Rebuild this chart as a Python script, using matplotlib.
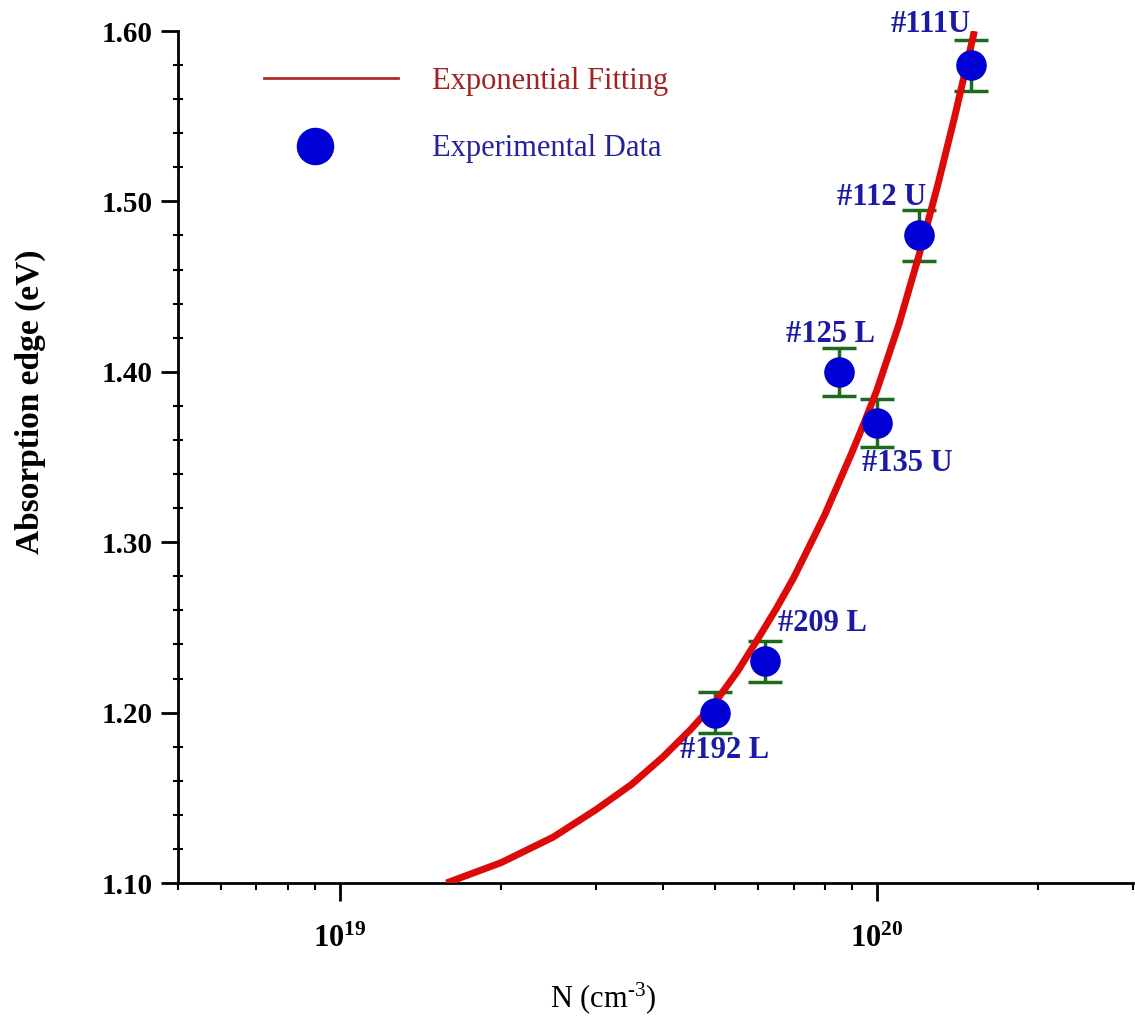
import numpy as np
import matplotlib
matplotlib.use("Agg")
import matplotlib.pyplot as plt
from matplotlib.ticker import MultipleLocator, FixedLocator, NullFormatter
from matplotlib.lines import Line2D
from matplotlib.legend_handler import HandlerLine2D

plt.rcParams['font.family'] = ['Liberation Serif', 'DejaVu Serif']
plt.rcParams['mathtext.fontset'] = 'custom'
plt.rcParams['mathtext.rm'] = 'Liberation Serif'
plt.rcParams['mathtext.bf'] = 'Liberation Serif:bold'
plt.rcParams['mathtext.it'] = 'Liberation Serif:italic'

# measured samples
sample_names = ["#192 L", "#209 L", "#125 L", "#135 U", "#112 U", "#111U"]
sample_N = [5.0e19, 6.2e19, 8.5e19, 1.0e20, 1.2e20, 1.5e20]
sample_E = [1.20, 1.23, 1.40, 1.37, 1.48, 1.58]
sample_err = [0.012, 0.012, 0.014, 0.014, 0.015, 0.015]
# label offsets (points) for each sample name
label_dx = [7, 41, -6, 22, -27, -29]
label_dy = [-27, 27, 27, -29, 27, 29]

# exponential fit curve
fit_N = [1.58e19, 2.0e19, 2.5e19, 3.0e19, 3.5e19, 4.0e19, 4.5e19, 5.0e19,
         5.5e19, 6.0e19, 6.5e19, 7.0e19, 7.5e19, 8.0e19, 8.5e19, 9.0e19,
         9.5e19, 1.0e20, 1.1e20, 1.2e20, 1.3e20, 1.4e20, 1.5e20, 1.52e20]
fit_E = [1.100, 1.112, 1.127, 1.143, 1.158, 1.174, 1.190, 1.206,
         1.224, 1.243, 1.261, 1.279, 1.298, 1.316, 1.335, 1.353,
         1.371, 1.389, 1.428, 1.469, 1.510, 1.551, 1.592, 1.600]


class OffsetMarkerHandler(HandlerLine2D):
    # single marker sits at the middle of xdata, so squeeze xdata to the left
    def get_xdata(self, legend, xdescent, ydescent, width, height, fontsize):
        xdata = np.array([-xdescent, -xdescent + 0.76 * width])
        return xdata, xdata


fig = plt.figure(figsize=(11.35, 10.17), dpi=100)
ax = fig.add_axes([178/1135, 134/1017, 955/1135, 852/1017])

ax.errorbar(sample_N, sample_E, yerr=sample_err, fmt='none', ecolor='#1c6a1c',
            elinewidth=2.5, capsize=12.5, capthick=2.5, zorder=2)
ax.plot(fit_N, fit_E, color='#dd0a0a', lw=5, solid_capstyle='butt', zorder=3)
ax.plot(sample_N, sample_E, 'o', color='#0000d4', ms=21, mec='#0000d4', zorder=4)

for name, x, y, dx, dy in zip(sample_names, sample_N, sample_E, label_dx, label_dy):
    ax.annotate(name, (x, y), xytext=(dx, dy), textcoords='offset points',
                ha='center', va='center', fontsize=22, fontweight='bold',
                color='#1a1aa6', zorder=5)

ax.set_xscale('log')
ax.set_xlim(5e18, 3e20)
ax.set_ylim(1.10, 1.60)

ax.spines['top'].set_visible(False)
ax.spines['right'].set_visible(False)
ax.spines['left'].set_linewidth(2)
ax.spines['bottom'].set_linewidth(2)

ax.set_yticks(np.arange(1.10, 1.61, 0.10))
ax.set_yticklabels(["%.2f" % v for v in np.arange(1.10, 1.61, 0.10)],
                   fontsize=21, fontweight='bold')
ax.yaxis.set_minor_locator(MultipleLocator(0.02))
ax.tick_params(axis='y', which='major', direction='out', length=12, width=2, pad=6)
ax.tick_params(axis='y', which='minor', direction='inout', length=7, width=1.5)

ax.xaxis.set_major_locator(FixedLocator([1e19, 1e20]))
ax.set_xticklabels([r'$\mathbf{10^{19}}$', r'$\mathbf{10^{20}}$'], fontsize=22)
minor_x = [m * 10.0**e for e in (18, 19, 20) for m in range(2, 10)]
ax.xaxis.set_minor_locator(FixedLocator([v for v in minor_x if 5e18 <= v <= 3e20]))
ax.xaxis.set_minor_formatter(NullFormatter())
ax.tick_params(axis='x', which='major', direction='out', length=13, width=2, pad=17)
ax.tick_params(axis='x', which='minor', direction='out', length=5, width=1.5)

fig.text(603/1135, 1 - 998/1017, r'N (cm$^{\text{-3}}$)', fontsize=22,
         ha='center', va='center')
fig.text(30/1135, 1 - 402/1017, 'Absorption edge (eV)', fontsize=24,
         fontweight='bold', rotation=90, ha='center', va='center')

handles = [Line2D([], [], color='#b02a2a', lw=2),
           Line2D([], [], ls='none', marker='o', ms=26, color='#0000d4')]
leg = ax.legend(handles, ['Exponential Fitting', 'Experimental Data'],
                loc='upper left', bbox_to_anchor=(0.061, 0.99), frameon=False,
                fontsize=22, handlelength=4.4, handletextpad=1.1,
                labelspacing=1.25,
                handler_map={handles[1]: OffsetMarkerHandler()})
leg.get_texts()[0].set_color('#a02424')
leg.get_texts()[1].set_color('#23239a')

fig.savefig('out.png', dpi=100, facecolor='white')
